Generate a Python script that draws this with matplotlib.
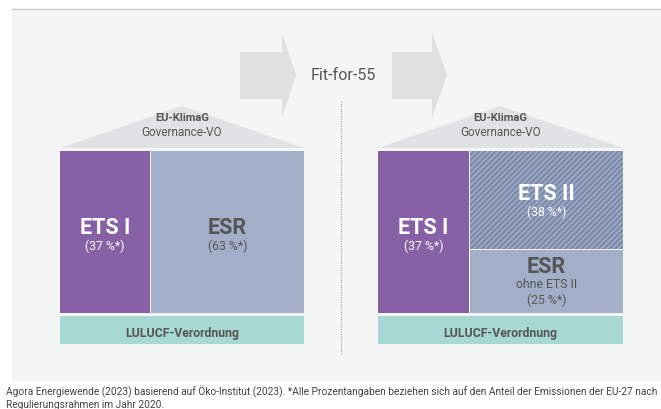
import matplotlib
matplotlib.use("Agg")
import matplotlib.pyplot as plt
from matplotlib.patches import Rectangle, Polygon

plt.rcParams['font.family'] = ['Roboto', 'DejaVu Sans']
plt.rcParams['hatch.linewidth'] = 1.0

# Data: shares of EU-27 emissions 2020 by regulatory framework (%)
ets1_share = 37
esr_share_before = 63
ets2_share = 38
esr_rest_share = 25

roof_lines = ["EU-KlimaG", "Governance-VO"]
base_label = "LULUCF-Verordnung"
arrow_label = "Fit-for-55"
footnote = ("Agora Energiewende (2023) basierend auf Öko-Institut (2023). *Alle Prozentangaben beziehen sich auf den Anteil der Emissionen der EU-27 nach\n"
            "Regulierungsrahmen im Jahr 2020.")

C_PURPLE = "#8661a6"
C_ESR = "#a3aec9"
C_ETS2 = "#7e8cab"
C_ETS2_H = "#a4afc9"
C_TEAL = "#a7d8d3"
C_ROOF = "#e1e2e3"
C_BG = "#f4f5f5"
C_TXT = "#555555"

fig = plt.figure(figsize=(6.61, 4.09), dpi=100)
ax = fig.add_axes([0, 0, 1, 1])
ax.set_xlim(0, 661)
ax.set_ylim(409, 0)
ax.axis("off")

# background panel and top line
ax.add_patch(Rectangle((12, 9), 661 - 12, 373, facecolor=C_BG, edgecolor="none"))
ax.plot([12, 661], [8.5, 8.5], color="#cfcfcf", lw=1)

# arrows
def arrow(x0, x1, xt):
    ax.add_patch(Polygon([(x0, 52), (x1, 52), (x1, 33), (xt, 75), (x1, 118), (x1, 99), (x0, 99)],
                         closed=True, facecolor="#e0e0e0", edgecolor="none"))
arrow(240, 282, 296)
arrow(392, 432, 447)
ax.text(343, 76, arrow_label, ha="center", va="center", fontsize=11.5, color=C_TXT)
ax.plot([341, 341], [101, 354], color="#9a9a9a", lw=0.8, ls=(0, (1, 1.2)))

def house(x0, x1, after):
    top, bottom = 151, 313
    w = x1 - x0
    cx = (x0 + x1) / 2
    # roof
    ax.add_patch(Polygon([(x0, 148), (cx, 106), (x1, 148)], closed=True,
                         facecolor=C_ROOF, edgecolor="none"))
    ax.text(cx, 118, roof_lines[0], ha="center", va="center", fontsize=8,
            fontweight="bold", color=C_TXT)
    ax.text(cx, 133, roof_lines[1], ha="center", va="center", fontsize=8.5, color=C_TXT)
    # ETS I
    total = ets1_share + (ets2_share + esr_rest_share if after else esr_share_before)
    xs = x0 + w * ets1_share / total
    ax.add_patch(Rectangle((x0, top), xs - x0, bottom - top, facecolor=C_PURPLE, edgecolor="none"))
    ex = (x0 + xs) / 2
    ax.text(ex, 228, "ETS I", ha="center", va="center", fontsize=15.5, fontweight="bold", color="white")
    ax.text(ex, 246, f"({ets1_share} %*)", ha="center", va="center", fontsize=8.8, color="white")
    rx = (xs + 1 + x1) / 2
    if not after:
        ax.add_patch(Rectangle((xs + 1, top), x1 - xs - 1, bottom - top, facecolor=C_ESR, edgecolor="none"))
        ax.text(rx, 228, "ESR", ha="center", va="center", fontsize=15.5, fontweight="bold", color=C_TXT)
        ax.text(rx, 246, f"({esr_share_before} %*)", ha="center", va="center", fontsize=8.8, color=C_TXT)
    else:
        h = bottom - top
        ys = top + h * ets2_share / (ets2_share + esr_rest_share)
        ax.add_patch(Rectangle((xs + 1, top), x1 - xs - 1, ys - top, facecolor=C_ETS2,
                               edgecolor=C_ETS2_H, lw=0, hatch="//////"))
        ax.add_patch(Rectangle((xs + 1, ys + 1.5), x1 - xs - 1, bottom - ys - 1.5,
                               facecolor=C_ESR, edgecolor="none"))
        ax.text(rx, 194, "ETS II", ha="center", va="center", fontsize=15.5, fontweight="bold", color="white")
        ax.text(rx, 212, f"({ets2_share} %*)", ha="center", va="center", fontsize=8.8, color="white")
        ax.text(rx, 267, "ESR", ha="center", va="center", fontsize=15.5, fontweight="bold", color=C_TXT)
        ax.text(rx, 284, "ohne ETS II", ha="center", va="center", fontsize=8.8, color=C_TXT)
        ax.text(rx, 300, f"({esr_rest_share} %*)", ha="center", va="center", fontsize=8.8, color=C_TXT)
    # base
    ax.add_patch(Rectangle((x0, 316), w, 28, facecolor=C_TEAL, edgecolor="none"))
    ax.text(cx, 333, base_label, ha="center", va="center", fontsize=8.8, fontweight="bold", color=C_TXT)

house(60, 304, False)
house(378, 623, True)

ax.text(6, 386, footnote, ha="left", va="top", fontsize=7.3, color="#444444", linespacing=1.15)

fig.savefig("out.png", dpi=100, facecolor="white")
